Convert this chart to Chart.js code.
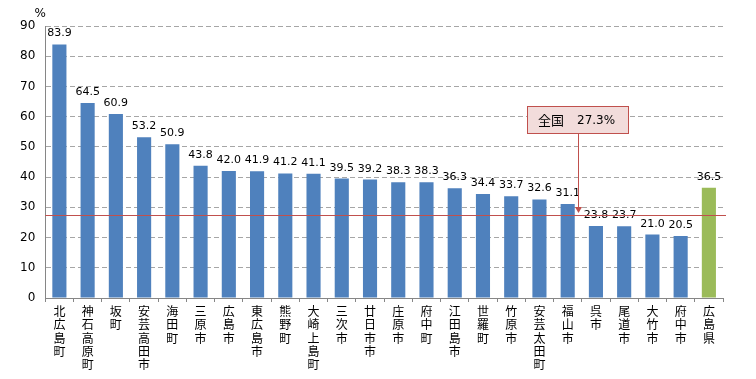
<!DOCTYPE html>
<html>
<head>
<meta charset="utf-8">
<script src="https://cdn.jsdelivr.net/npm/chart.js@4"></script>
<style>
  html, body { margin: 0; background: #fff; }
  #wrap { width: 756px; height: 379px; }
</style>
</head>
<body>
<div id="wrap"><canvas id="chart"></canvas></div>
<script>
// 市町別の割合 (%)
const cities = [
  "北広島町", "神石高原町", "坂町", "安芸高田市", "海田町", "三原市", "広島市", "東広島市",
  "熊野町", "大崎上島町", "三次市", "廿日市市", "庄原市", "府中町", "江田島市", "世羅町",
  "竹原市", "安芸太田町", "福山市", "呉市", "尾道市", "大竹市", "府中市", "広島県"
];
const rates = [
  83.9, 64.5, 60.9, 53.2, 50.9, 43.8, 42.0, 41.9,
  41.2, 41.1, 39.5, 39.2, 38.3, 38.3, 36.3, 34.4,
  33.7, 32.6, 31.1, 23.8, 23.7, 21.0, 20.5, 36.5
];
const yTicks = [0, 10, 20, 30, 40, 50, 60, 70, 80, 90];
const nationalLabel = "全国";
const nationalRate = 27.3;

const barBlue = "#4f81bd";
const barGreen = "#9bbb59";
const lineRed = "#c0504d";
const jpFont = "'Noto Sans CJK JP', sans-serif";

// 最後 (広島県) だけ緑
const barColors = cities.map((c, i) => (i === cities.length - 1 ? barGreen : barBlue));

// 棒の上に値
const valueLabels = {
  id: "valueLabels",
  afterDatasetsDraw(chart) {
    const ctx = chart.ctx;
    const meta = chart.getDatasetMeta(0);
    ctx.save();
    ctx.font = "11px 'DejaVu Sans', sans-serif";
    ctx.fillStyle = "#000";
    ctx.textAlign = "center";
    ctx.textBaseline = "alphabetic";
    meta.data.forEach((bar, i) => {
      ctx.fillText(rates[i].toFixed(1), bar.x, bar.y - 8);
    });
    ctx.restore();
  },
};

// 全国平均の線と吹き出し
const nationalLine = {
  id: "nationalLine",
  afterDraw(chart) {
    const { ctx, chartArea, scales } = chart;
    const y = Math.round(scales.y.getPixelForValue(nationalRate));
    ctx.save();
    ctx.fillStyle = lineRed;
    ctx.fillRect(chartArea.left, y, chartArea.right - chartArea.left + 3, 1);

    // callout
    const ax = Math.round(scales.x.getPixelForValue(18.35));
    const boxTop = Math.round(scales.y.getPixelForValue(63.5));
    const boxBottom = Math.round(scales.y.getPixelForValue(54.6));
    const boxW = 101;
    const boxL = ax - 51;
    ctx.fillStyle = "#f2dcdb";
    ctx.fillRect(boxL, boxTop, boxW, boxBottom - boxTop);
    ctx.strokeStyle = lineRed;
    ctx.lineWidth = 1;
    ctx.strokeRect(boxL + 0.5, boxTop + 0.5, boxW, boxBottom - boxTop);

    ctx.fillStyle = "#000";
    ctx.textBaseline = "middle";
    ctx.textAlign = "left";
    const ty = (boxTop + boxBottom) / 2 + 1;
    ctx.font = "13px " + jpFont;
    ctx.fillText(nationalLabel, boxL + 11, ty);
    ctx.font = "12px 'DejaVu Sans', sans-serif";
    ctx.fillText(nationalRate.toFixed(1) + "%", boxL + 50, ty);

    // arrow
    const tipY = y - 2;
    ctx.fillStyle = lineRed;
    ctx.fillRect(ax, boxBottom + 1, 1, tipY - 5 - boxBottom);
    ctx.beginPath();
    ctx.moveTo(ax - 3, tipY - 6);
    ctx.lineTo(ax + 4, tipY - 6);
    ctx.lineTo(ax + 0.5, tipY);
    ctx.closePath();
    ctx.fill();

    // 単位
    ctx.fillStyle = "#000";
    ctx.font = "12px 'DejaVu Sans', sans-serif";
    ctx.textAlign = "center";
    ctx.textBaseline = "bottom";
    ctx.fillText("%", chartArea.left - 5, chartArea.top - 6);
    ctx.restore();
  },
};

new Chart(document.getElementById("chart"), {
  type: "bar",
  data: {
    labels: cities.map((c) => c.split("")),
    datasets: [
      {
        data: rates,
        backgroundColor: barColors,
        barPercentage: 0.5,
        categoryPercentage: 1,
      },
    ],
  },
  options: {
    responsive: true,
    maintainAspectRatio: false,
    animation: false,
    layout: { padding: { top: 26, right: 33, left: 10, bottom: 5 } },
    plugins: {
      legend: { display: false },
      tooltip: { enabled: false },
    },
    scales: {
      y: {
        min: 0,
        max: 90,
        afterBuildTicks: (axis) => {
          axis.ticks = yTicks.map((v) => ({ value: v }));
        },
        ticks: {
          color: "#000",
          font: { family: "'DejaVu Sans', sans-serif", size: 12 },
          padding: 10,
        },
        grid: { color: "#a6a6a6", drawTicks: false },
        border: { color: "#868686", dash: [5, 3] },
      },
      x: {
        ticks: {
          color: "#000",
          font: { family: jpFont, size: 12, lineHeight: 1.1 },
          maxRotation: 0,
          autoSkip: false,
          padding: 3,
        },
        grid: {
          offset: true,
          drawOnChartArea: false,
          color: "#868686",
          tickLength: 4,
        },
        border: { color: "#868686" },
      },
    },
  },
  plugins: [valueLabels, nationalLine],
});
</script>
</body>
</html>
